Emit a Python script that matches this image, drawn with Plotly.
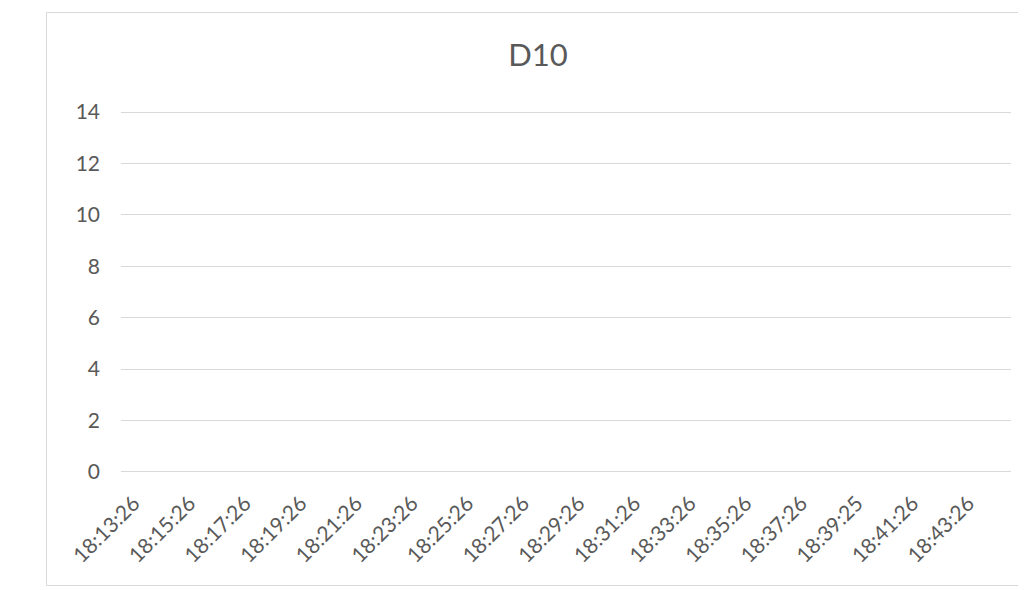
import plotly.graph_objects as go

categories = ["18:13:26", "18:15:26", "18:17:26", "18:19:26", "18:21:26", "18:23:26",
              "18:25:26", "18:27:26", "18:29:26", "18:31:26", "18:33:26", "18:35:26",
              "18:37:26", "18:39:25", "18:41:26", "18:43:26"]
values = [None] * len(categories)  # the series has no plotted values
y_ticks = [0, 2, 4, 6, 8, 10, 12, 14]
title_text = "D10"

# page body has an 8px default margin; the figure is sized to fit the window
OFF = 8
W, H = 1026 - OFF, 590 - OFF
L, R, T, B = 121 - OFF, 15, 110 - OFF, 590 - 474
pw, ph = W - L - R, H - T - B

def px_x(p):
    return (p - OFF - L) / pw

def px_y(p):
    return (H - B - (p - OFF)) / ph

fig = go.Figure()
fig.add_trace(go.Scatter(x=categories, y=values, mode="lines",
                         line=dict(color="#4472C4", width=2.25), showlegend=False))

fig.update_layout(
    width=W, height=H,
    margin=dict(l=L, r=R, t=T, b=B),
    paper_bgcolor="white", plot_bgcolor="white",
    font=dict(family="Lato, Carlito, sans-serif", color="#595959", size=21),
    title=dict(text=title_text, xref="container", yref="container",
               x=(538 - OFF) / W, y=1 - (55 - OFF) / H, xanchor="center", yanchor="middle",
               font=dict(size=31, color="#595959")),
    xaxis=dict(type="category", categoryorder="array", categoryarray=categories,
               range=[-0.5, len(categories) - 0.5], tickangle=-45,
               showgrid=False, showline=False, zeroline=False, ticks="",
               ticklabelstandoff=12, ticklabelshift=-15,
               tickfont=dict(size=21, color="#595959")),
    yaxis=dict(range=[-0.08, 14.08], tickvals=y_ticks, showgrid=True, gridcolor="#d9d9d9",
               gridwidth=1, zeroline=True, zerolinecolor="#d9d9d9", zerolinewidth=1,
               showline=False, ticks="",
               ticklabelstandoff=20, tickfont=dict(size=21, color="#595959")),
    shapes=[dict(type="rect", xref="paper", yref="paper",
                 x0=px_x(46.5), x1=px_x(1040), y0=px_y(585.5), y1=px_y(12.5),
                 line=dict(color="#d9d9d9", width=1), fillcolor="rgba(0,0,0,0)",
                 layer="below")],
)

fig.write_html("out.html")
